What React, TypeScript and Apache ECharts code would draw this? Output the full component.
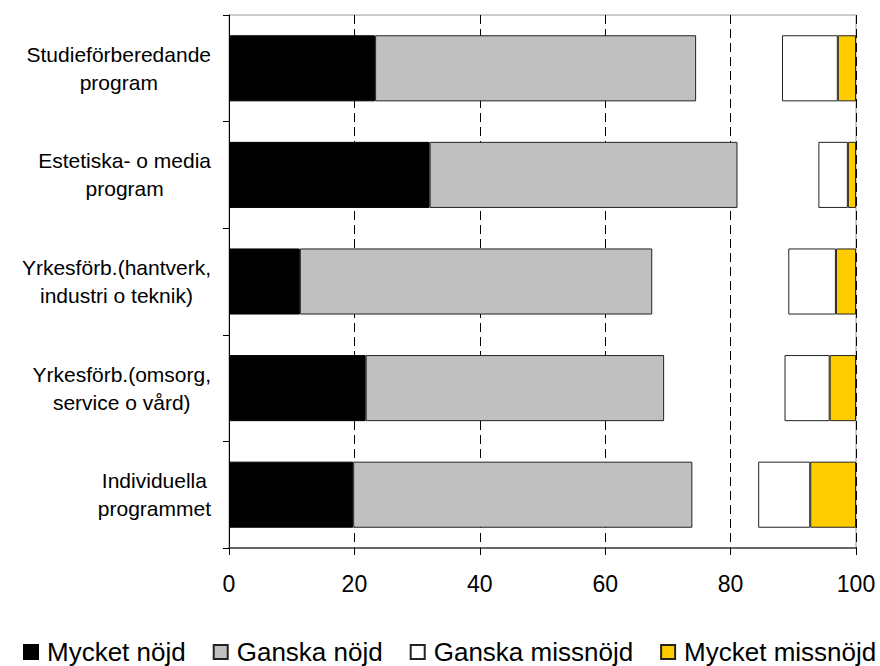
import React, { useEffect, useRef } from "react";
import * as echarts from "echarts";

const categories = [
  "Studieförberedande\nprogram",
  "Estetiska- o media\nprogram",
  "Yrkesförb.(hantverk,\nindustri o teknik)",
  "Yrkesförb.(omsorg,\nservice o vård)",
  "Individuella\nprogrammet",
];
const mycketNojd = [23.3, 32.0, 11.3, 21.8, 19.8];
const ganskaNojd = [51.2, 49.1, 56.2, 47.6, 54.1];
const ganskaMissnojd = [8.9, 4.7, 7.6, 7.2, 8.3];
const mycketMissnojd = [2.9, 1.3, 3.2, 4.2, 7.3];
const xTicks = [0, 20, 40, 60, 80, 100];

const FONT = "'Liberation Sans', Arial, sans-serif";

export default function App() {
  const ref = useRef<HTMLDivElement>(null);
  useEffect(() => {
    if (!ref.current) return;
    const chart = echarts.init(ref.current, undefined, { renderer: "svg" });
    const gap = categories.map(
      (_, i) => 100 - mycketNojd[i] - ganskaNojd[i] - ganskaMissnojd[i] - mycketMissnojd[i]
    );
    const barWidth = "62%";
    chart.setOption({
      animation: false,
      backgroundColor: "#fff",
      textStyle: { fontFamily: FONT },
      grid: {
        left: 229,
        right: 24,
        top: 15,
        bottom: 118,
        containLabel: false,
        outerBoundsMode: "none",
        show: true,
        borderColor: "#999",
        borderWidth: 1,
        backgroundColor: "transparent",
      },
      legend: {
        left: 23,
        top: 639,
        padding: 0,
        itemWidth: 14,
        itemHeight: 14,
        itemGap: 27,
        icon: "rect",
        data: ["Mycket nöjd", "Ganska nöjd", "Ganska missnöjd", "Mycket missnöjd"],
        textStyle: {
          fontFamily: FONT,
          fontSize: 26,
          color: "#000",
          lineHeight: 26,
          padding: [0, 0, 0, 4],
        },
      },
      xAxis: {
        type: "value",
        min: xTicks[0],
        max: xTicks[xTicks.length - 1],
        interval: 20,
        axisLine: { show: true, lineStyle: { color: "#444", width: 1.5 } },
        axisTick: { show: true, length: 7, lineStyle: { color: "#000" } },
        axisLabel: { fontFamily: FONT, fontSize: 23, color: "#000", margin: 24 },
        splitLine: {
          show: true,
          lineStyle: { color: "#000", type: [9, 5], width: 1 },
        },
      },
      yAxis: {
        type: "category",
        inverse: true,
        data: categories,
        axisLine: { show: true, lineStyle: { color: "#000", width: 1 } },
        axisTick: { show: true, length: 6, lineStyle: { color: "#000" } },
        splitLine: { show: false },
        axisLabel: {
          margin: 18,
          formatter: (v: string) =>
            v
              .split("\n")
              .map((l) => `{c|${l}}`)
              .join("\n"),
          rich: {
            c: {
              align: "center",
              fontFamily: FONT,
              fontSize: 21,
              lineHeight: 28,
              color: "#000",
            },
          },
        },
      },
      series: [
        {
          name: "Mycket nöjd",
          type: "bar",
          stack: "s",
          barWidth,
          data: mycketNojd,
          itemStyle: { color: "#000", borderColor: "#000", borderWidth: 1 },
        },
        {
          name: "Ganska nöjd",
          type: "bar",
          stack: "s",
          barWidth,
          data: ganskaNojd,
          itemStyle: { color: "#C0C0C0", borderColor: "#222", borderWidth: 1 },
        },
        {
          name: "gap",
          type: "bar",
          stack: "s",
          barWidth,
          data: gap,
          silent: true,
          itemStyle: { color: "rgba(0,0,0,0)", borderWidth: 0 },
        },
        {
          name: "Ganska missnöjd",
          type: "bar",
          stack: "s",
          barWidth,
          data: ganskaMissnojd,
          itemStyle: { color: "#fff", borderColor: "#222", borderWidth: 1 },
        },
        {
          name: "Mycket missnöjd",
          type: "bar",
          stack: "s",
          barWidth,
          data: mycketMissnojd,
          itemStyle: { color: "#FFCC00", borderColor: "#222", borderWidth: 1 },
        },
      ],
    });
    return () => chart.dispose();
  }, []);
  return (
    <div
      ref={ref}
      style={{ position: "fixed", left: 0, top: 0, width: 880, height: 666 }}
    />
  );
}
